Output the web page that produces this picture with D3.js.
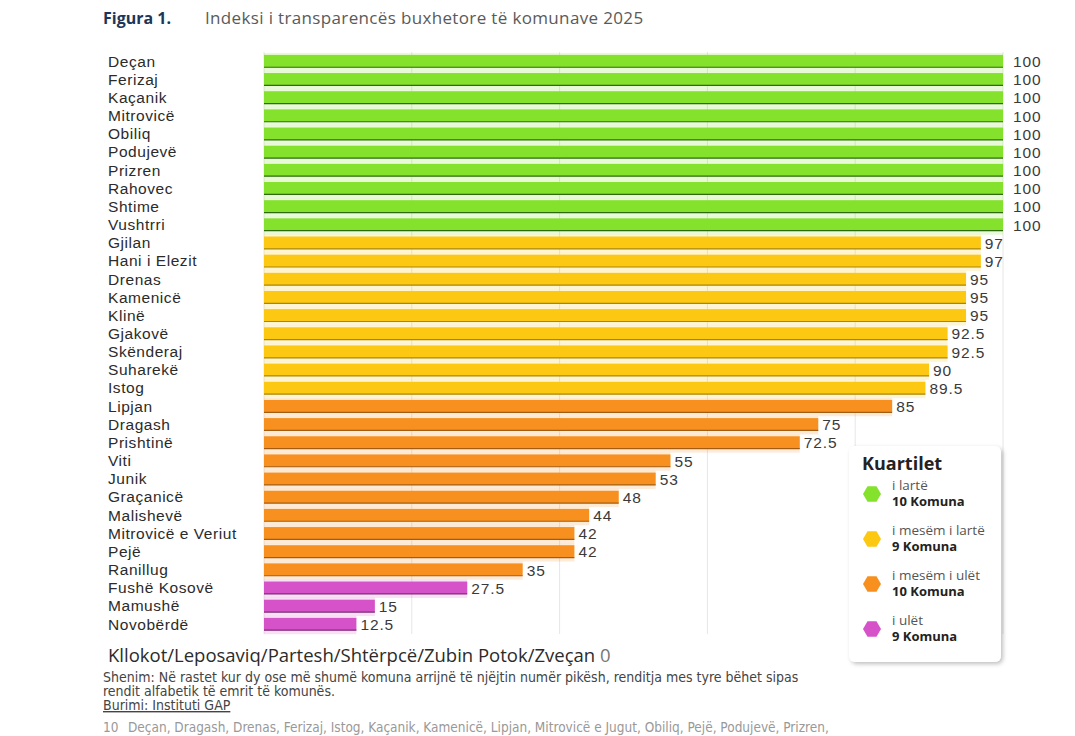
<!DOCTYPE html>
<html>
<head>
<meta charset="utf-8">
<script src="https://cdn.jsdelivr.net/npm/d3@7"></script>
<style>
  body { margin: 0; background: #fff; }
  svg text { font-family: "Open Sans", "Noto Sans", sans-serif; }
  svg text.emri, svg text.vlera { font-family: "Liberation Sans", Arial, sans-serif; }
</style>
</head>
<body>
<svg id="chart"></svg>
<script>
var komunat = ["Deçan", "Ferizaj", "Kaçanik", "Mitrovicë", "Obiliq", "Podujevë", "Prizren", "Rahovec", "Shtime", "Vushtrri",
    "Gjilan", "Hani i Elezit", "Drenas", "Kamenicë", "Klinë", "Gjakovë", "Skënderaj", "Suharekë", "Istog",
    "Lipjan", "Dragash", "Prishtinë", "Viti", "Junik", "Graçanicë", "Malishevë", "Mitrovicë e Veriut", "Pejë", "Ranillug",
    "Fushë Kosovë", "Mamushë", "Novobërdë"];
var pikët = [100, 100, 100, 100, 100, 100, 100, 100, 100, 100,
    97, 97, 95, 95, 95, 92.5, 92.5, 90, 89.5,
    85, 75, 72.5, 55, 53, 48, 44, 42, 42, 35,
    27.5, 15, 12.5];
var kuartili = [0, 0, 0, 0, 0, 0, 0, 0, 0, 0,
    1, 1, 1, 1, 1, 1, 1, 1, 1,
    2, 2, 2, 2, 2, 2, 2, 2, 2, 2,
    3, 3, 3];
var kuartilet = ["i lartë", "i mesëm i lartë", "i mesëm i ulët", "i ulët"];
var numri = ["10 Komuna", "9 Komuna", "10 Komuna", "9 Komuna"];
var ngjyrat = ["#84e12c", "#fcc812", "#f7901f", "#d652c9"];
var hijet = ["#2f6a12", "#a8860a", "#a25d12", "#7d2b74"];
var rjetat = [0, 20, 40, 60, 80, 100];

var width = 1075, height = 736;
var svg = d3.select("#chart").attr("width", width).attr("height", height);

var x = d3.scaleLinear().domain([0, 100]).range([264, 1003]);
var y = d3.scaleBand().domain(komunat).range([52, 52 + 32 * 18.16]).paddingInner(0.32).paddingOuter(0.16);

// titulli
svg.append("text").attr("x", 103).attr("y", 24)
    .attr("font-size", 16).attr("font-weight", "bold").attr("fill", "#1d3557")
    .text("Figura 1.");
svg.append("text").attr("x", 205).attr("y", 24)
    .attr("font-size", 17).attr("letter-spacing", 0.35).attr("fill", "#5a5a5a")
    .text("Indeksi i transparencës buxhetore të komunave 2025");

// vijat e rrjetës
svg.append("g").selectAll("line")
    .data(rjetat)
    .enter().append("line")
    .attr("x1", d => x(d)).attr("x2", d => x(d))
    .attr("y1", 52).attr("y2", 634)
    .attr("stroke", "#e6e6e6").attr("stroke-width", 1);

var rreshtat = svg.append("g").selectAll("g")
    .data(komunat)
    .enter().append("g");

// shkëlqimi i zbehtë rreth shiritit
rreshtat.append("rect")
    .attr("x", x(0))
    .attr("y", d => y(d) - 2)
    .attr("width", (d, i) => x(pikët[i]) - x(0))
    .attr("height", y.bandwidth() + 6)
    .attr("fill", (d, i) => ngjyrat[kuartili[i]])
    .attr("opacity", 0.18);

rreshtat.append("rect")
    .attr("x", x(0))
    .attr("y", d => y(d))
    .attr("width", (d, i) => x(pikët[i]) - x(0))
    .attr("height", y.bandwidth())
    .attr("fill", (d, i) => ngjyrat[kuartili[i]]);

rreshtat.append("line")
    .attr("x1", x(0))
    .attr("x2", (d, i) => x(pikët[i]))
    .attr("y1", d => y(d) + y.bandwidth())
    .attr("y2", d => y(d) + y.bandwidth())
    .attr("stroke", (d, i) => hijet[kuartili[i]])
    .attr("stroke-width", 1.2);

rreshtat.append("text")
    .attr("class", "emri")
    .attr("x", 108)
    .attr("y", d => y(d) + y.bandwidth() / 2 + 5.5)
    .attr("font-size", 15.5).attr("letter-spacing", 0.55).attr("fill", "#2b2b2b")
    .text(d => d);

rreshtat.append("text")
    .attr("class", "vlera")
    .attr("x", (d, i) => x(pikët[i]) + (pikët[i] === 100 ? 10 : 4))
    .attr("y", d => y(d) + y.bandwidth() / 2 + 6)
    .attr("font-size", 15.5).attr("letter-spacing", 0.9).attr("fill", "#3a3a3a")
    .text((d, i) => pikët[i]);

// komunat me 0 pikë
var zero = svg.append("text").attr("x", 108).attr("y", 662)
    .attr("font-size", 18.5).attr("fill", "#2b2b2b");
zero.append("tspan").text("Kllokot/Leposaviq/Partesh/Shtërpcë/Zubin Potok/Zveçan ");
zero.append("tspan").attr("fill", "#777").text("0");

// legjenda
var leg = svg.append("g");
var filter = svg.append("defs").append("filter").attr("id", "hije")
    .attr("x", "-20%").attr("y", "-20%").attr("width", "140%").attr("height", "140%");
filter.append("feDropShadow").attr("dx", 2).attr("dy", 2).attr("stdDeviation", 2)
    .attr("flood-color", "#000").attr("flood-opacity", 0.25);
leg.append("rect").attr("x", 849).attr("y", 446).attr("width", 152).attr("height", 216)
    .attr("rx", 6).attr("fill", "#fff").attr("filter", "url(#hije)");
leg.append("text").attr("x", 862).attr("y", 470)
    .attr("font-size", 18).attr("font-weight", "bold").attr("fill", "#222")
    .text("Kuartilet");

var hex = d3.range(6).map(k => {
    var a = Math.PI / 3 * k;
    return [Math.cos(a) * 9, Math.sin(a) * 9];
});
var elementet = leg.selectAll("g.el")
    .data(kuartilet)
    .enter().append("g")
    .attr("class", "el")
    .attr("transform", (d, i) => "translate(0," + (492 + i * 45) + ")");
elementet.append("path")
    .attr("transform", "translate(872,2)")
    .attr("d", "M" + hex.join("L") + "Z")
    .attr("fill", (d, i) => ngjyrat[i]);
elementet.append("text").attr("x", 892).attr("y", -2)
    .attr("font-size", 13.5).attr("fill", "#555").text(d => d);
elementet.append("text").attr("x", 892).attr("y", 14)
    .attr("font-size", 13).attr("font-weight", "bold").attr("fill", "#222")
    .text((d, i) => numri[i]);

// shënimet
var narrow = "'Liberation Sans Narrow', 'DejaVu Sans Condensed', sans-serif";
var shenim = svg.append("g").attr("font-size", 14).attr("fill", "#444");
shenim.append("text").attr("x", 103).attr("y", 682)
    .style("font-family", narrow)
    .text("Shenim: Në rastet kur dy ose më shumë komuna arrijnë të njëjtin numër pikësh, renditja mes tyre bëhet sipas");
shenim.append("text").attr("x", 103).attr("y", 696)
    .style("font-family", narrow)
    .text("rendit alfabetik të emrit të komunës.");
shenim.append("text").attr("x", 103).attr("y", 710)
    .style("font-family", narrow)
    .attr("text-decoration", "underline")
    .text("Burimi: Instituti GAP");
var fusnota = shenim.append("text").attr("x", 103).attr("y", 732).attr("fill", "#999")
    .attr("font-size", 13.5)
    .style("font-family", narrow);
fusnota.append("tspan").text("10");
fusnota.append("tspan").attr("x", 128)
    .text("Deçan, Dragash, Drenas, Ferizaj, Istog, Kaçanik, Kamenicë, Lipjan, Mitrovicë e Jugut, Obiliq, Pejë, Podujevë, Prizren,");
</script>
</body>
</html>
